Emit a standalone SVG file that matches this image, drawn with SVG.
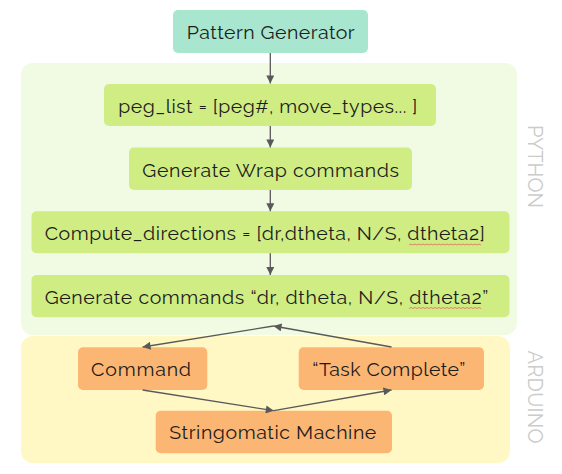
<svg xmlns="http://www.w3.org/2000/svg" width="562" height="474" viewBox="0 0 562 474">
<style>
.t{font-family:"Raleway","Lato","Liberation Sans",sans-serif;font-size:19.5px;fill:#1c1c1c}
.v{font-family:"Raleway","Lato","Liberation Sans",sans-serif;font-size:20px;fill:#cbcbcb;text-anchor:middle}
.c{stroke:#595959;stroke-width:1.3;fill:none}
.sq{stroke:#e06666;stroke-width:0.8;fill:none}
</style>
<defs>
<marker id="ah" viewBox="0 0 10 10" refX="10" refY="5" markerWidth="9" markerHeight="8" markerUnits="userSpaceOnUse" orient="auto">
<path d="M0,0 L10,5 L0,10 z" fill="#595959"/>
</marker>
</defs>
<g id="python">
<rect x="21" y="63" width="496" height="272" rx="12" fill="#f1fbe3"/>
<text class="v" transform="translate(528,166.5) rotate(90)" textLength="83">PYTHON</text>
</g>
<g id="arduino">
<rect x="21" y="336" width="489" height="127" rx="12" fill="#fff8c5"/>
<text class="v" transform="translate(528,397) rotate(90)" textLength="93">ARDUINO</text>
</g>
<g id="pattern-generator">
<rect x="173" y="10" width="195" height="43" rx="5" fill="#a8e6cf"/>
<text class="t" x="186.7" y="39" textLength="168">Pattern Generator</text>
</g>
<g id="peg-list">
<rect x="104" y="84" width="332" height="42" rx="5" fill="#d0ed84"/>
<text class="t" x="118.3" y="113.3" textLength="299">peg_list = [peg#, move_types... ]</text>
</g>
<g id="wrap">
<rect x="129" y="147.5" width="283" height="42.5" rx="5" fill="#d0ed84"/>
<text class="t" x="142.3" y="176.7" textLength="256.7">Generate Wrap commands</text>
</g>
<g id="compute">
<rect x="31.5" y="211.3" width="478" height="42" rx="5" fill="#d0ed84"/>
<text class="t" x="44.7" y="239.7" textLength="440">Compute_directions = [dr,dtheta, N/S, dtheta2]</text>
<path class="sq" d="M409,245 l2,-1 2,1 2,-1 2,1 2,-1 2,1 2,-1 2,1 2,-1 2,1 2,-1 2,1 2,-1 2,1 2,-1 2,1 2,-1 2,1 2,-1 2,1 2,-1 2,1 2,-1 2,1 2,-1 2,1 2,-1 2,1 2,-1 2,1 2,-1 2,1 2,-1 2,1 2,-1 2,1"/>
</g>
<g id="generate-commands">
<rect x="31.5" y="275" width="478" height="42.3" rx="5" fill="#d0ed84"/>
<text class="t" x="44.7" y="303.7" textLength="443.6">Generate commands “dr, dtheta, N/S, dtheta2”</text>
<path class="sq" d="M409,308.5 l2,-1 2,1 2,-1 2,1 2,-1 2,1 2,-1 2,1 2,-1 2,1 2,-1 2,1 2,-1 2,1 2,-1 2,1 2,-1 2,1 2,-1 2,1 2,-1 2,1 2,-1 2,1 2,-1 2,1 2,-1 2,1 2,-1 2,1 2,-1 2,1 2,-1 2,1 2,-1 2,1"/>
</g>
<g id="command">
<rect x="78" y="347.3" width="129.3" height="42.7" rx="5" fill="#fbb674"/>
<text class="t" x="91" y="375.7" textLength="100">Command</text>
</g>
<g id="task-complete">
<rect x="298.7" y="347.3" width="185.3" height="42.7" rx="5" fill="#fbb674"/>
<text class="t" x="312.3" y="375.7" textLength="153">“Task Complete”</text>
</g>
<g id="stringomatic">
<rect x="155.7" y="410.7" width="236.3" height="42.6" rx="5" fill="#fbb674"/>
<text class="t" x="169.3" y="439.3" textLength="207">Stringomatic Machine</text>
</g>
<g id="connectors">
<line class="c" x1="270.3" y1="53" x2="270.3" y2="83.5" marker-end="url(#ah)"/>
<line class="c" x1="270.3" y1="126" x2="270.3" y2="147.5" marker-end="url(#ah)"/>
<line class="c" x1="270.3" y1="190" x2="270.3" y2="211.3" marker-end="url(#ah)"/>
<line class="c" x1="270.3" y1="253.3" x2="270.3" y2="275" marker-end="url(#ah)"/>
<line class="c" x1="273.5" y1="326" x2="142.6" y2="347" marker-end="url(#ah)"/>
<line class="c" x1="391.5" y1="347" x2="273.5" y2="326" marker-end="url(#ah)"/>
<line class="c" x1="142.6" y1="390" x2="273.8" y2="410.7" marker-end="url(#ah)"/>
<line class="c" x1="273.8" y1="410.7" x2="391.5" y2="390" marker-end="url(#ah)"/>
</g>
</svg>
